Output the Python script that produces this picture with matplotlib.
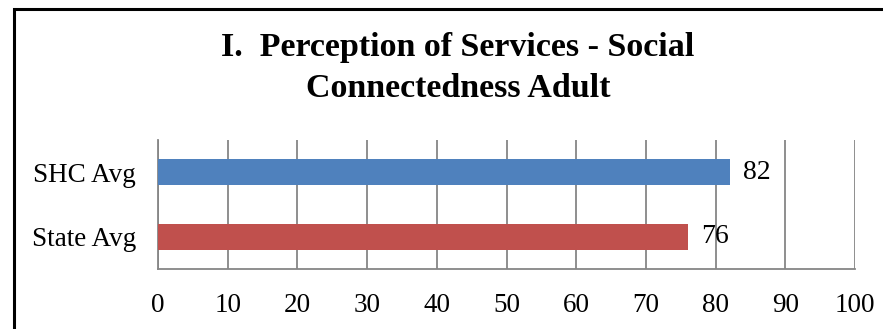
import matplotlib
matplotlib.use("Agg")
import matplotlib.pyplot as plt
from matplotlib.ticker import MultipleLocator
from matplotlib.patches import Rectangle

# data
categories = ["State Avg", "SHC Avg"]
values = [76, 82]
colors = ["#C0504D", "#4F81BD"]
title = "I.  Perception of Services - Social\nConnectedness Adult"

plt.rcParams['font.family'] = ['Liberation Serif', 'DejaVu Serif']

fig = plt.figure(figsize=(8.83, 3.29), dpi=100)
ax = fig.add_axes([158 / 883, 1 - 269 / 329, (855 - 158) / 883, (269 - 140) / 329])

# chart frame (only left and top edges visible in the crop)
fig.patches.append(Rectangle((14 / 883, -0.1), 1.2, 1 - 9 / 329 + 0.1,
                             transform=fig.transFigure, fill=False,
                             edgecolor='black', linewidth=2.2))

ax.barh(categories, values, height=0.4, color=colors, zorder=3)
for i, v in enumerate(values):
    ax.text(v + 1.9, i, str(v), va='center', ha='left', fontsize=20)

ax.set_xlim(0, 100)
ax.set_ylim(-0.5, 1.5)
ax.xaxis.set_major_locator(MultipleLocator(10))
ax.grid(axis='x', which='major', color='#868686', linewidth=1.3, zorder=0)

for s in ['top', 'right']:
    ax.spines[s].set_visible(False)
for s in ['left', 'bottom']:
    ax.spines[s].set_color('#868686')
    ax.spines[s].set_linewidth(1.3)

ax.tick_params(axis='both', length=0, labelsize=19.5)
ax.tick_params(axis='x', pad=17)
ax.tick_params(axis='y', pad=16)

fig.text(458 / 883, 1 - 68 / 329, title, ha='center', va='center',
         fontsize=24.5, fontweight='bold', linespacing=1.45)

fig.savefig("out.png", dpi=100)
